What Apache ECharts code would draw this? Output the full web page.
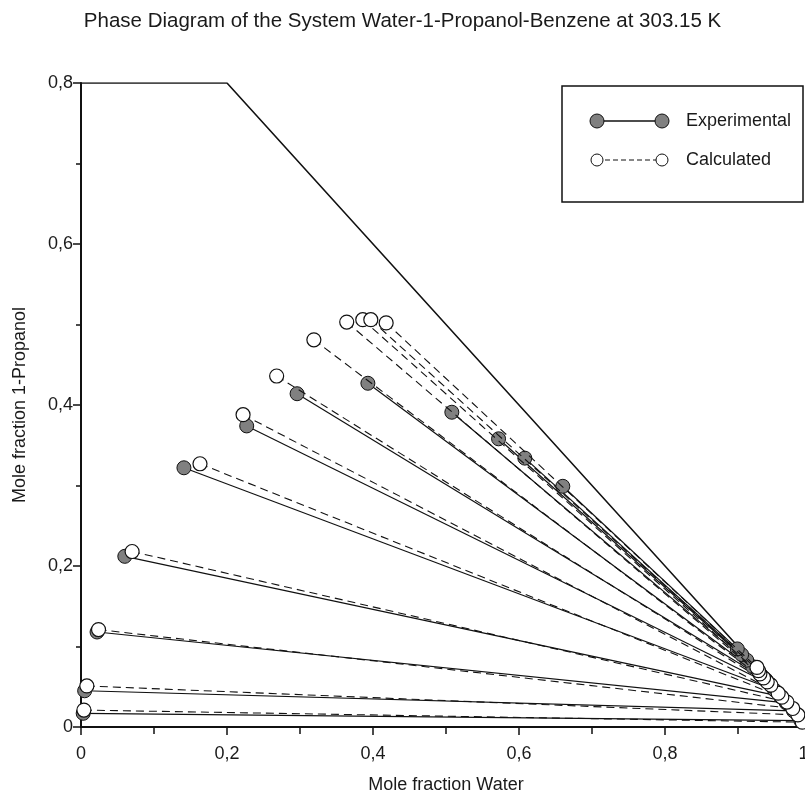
<!DOCTYPE html>
<html>
<head>
<meta charset="utf-8">
<script src="https://cdn.jsdelivr.net/npm/echarts@6/dist/echarts.min.js"></script>
<style>
  html, body { margin: 0; padding: 0; background: #fff; }
  #chart { width: 805px; height: 798px; }
</style>
</head>
<body>
<div id="chart"></div>
<script>
// tie lines: organic-rich phase end (left) and aqueous end (right), [water, 1-propanol]
const expOrganic = [
  [0.003, 0.017], [0.005, 0.045], [0.022, 0.118], [0.06, 0.212],
  [0.141, 0.322], [0.227, 0.374], [0.296, 0.414], [0.393, 0.427],
  [0.508, 0.391], [0.572, 0.358], [0.608, 0.334], [0.66, 0.299]
];
const expAqueous = [
  [0.986, 0.008], [0.976, 0.02], [0.966, 0.03], [0.958, 0.038],
  [0.95, 0.046], [0.944, 0.053], [0.938, 0.059], [0.932, 0.064],
  [0.92, 0.075], [0.912, 0.083], [0.905, 0.09], [0.899, 0.097]
];
const calcOrganic = [
  [0.004, 0.021], [0.008, 0.051], [0.024, 0.121], [0.07, 0.218],
  [0.163, 0.327], [0.222, 0.388], [0.268, 0.436], [0.319, 0.481],
  [0.364, 0.503], [0.386, 0.506], [0.397, 0.506], [0.418, 0.502]
];
const calcAqueous = [
  [0.988, 0.006], [0.982, 0.015], [0.975, 0.023], [0.967, 0.031],
  [0.96, 0.037], [0.955, 0.042], [0.945, 0.052], [0.94, 0.056],
  [0.935, 0.061], [0.93, 0.066], [0.928, 0.07], [0.926, 0.074]
];
// outer limit of the diagram (x + y <= 1, y <= 0.8)
const boundary = [[0, 0.8], [0.2, 0.8], [1, 0]];

const xTickLabels = ["0", "0,2", "0,4", "0,6", "0,8", "1,0"];
const yTickLabels = ["0", "0,2", "0,4", "0,6", "0,8"];

const FONT = "'Liberation Sans', Arial, sans-serif";

const chart = echarts.init(document.getElementById("chart"));

const series = [
  {
    type: "line",
    data: boundary,
    symbol: "none",
    silent: true,
    lineStyle: { color: "#111", width: 1.6 },
    z: 1
  }
];

expOrganic.forEach((p, i) => {
  series.push({
    type: "line",
    data: [p, expAqueous[i]],
    symbol: "circle",
    symbolSize: 14,
    itemStyle: { color: "#808080", borderColor: "#111", borderWidth: 1 },
    lineStyle: { color: "#111", width: 1.2 },
    z: 2
  });
});

calcOrganic.forEach((p, i) => {
  series.push({
    type: "line",
    data: [p, calcAqueous[i]],
    symbol: "circle",
    symbolSize: 14,
    itemStyle: { color: "#fff", borderColor: "#111", borderWidth: 1.2 },
    lineStyle: { color: "#111", width: 1.1, type: [8, 5] },
    z: 3
  });
});

const option = {
  animation: false,
  backgroundColor: "#fff",
  title: {
    text: "Phase Diagram of the System Water-1-Propanol-Benzene at 303.15 K",
    left: "center",
    top: 6,
    textStyle: { fontFamily: FONT, fontSize: 20.5, fontWeight: "normal", color: "#1a1a1a" }
  },
  // the x axis runs on past the right edge of the picture (1,0 is cut off)
  grid: { left: 81, top: 83, width: 730, height: 644, outerBoundsMode: "none", containLabel: false },
  xAxis: {
    type: "value",
    min: 0,
    max: 1,
    interval: 0.2,
    name: "Mole fraction Water",
    nameLocation: "middle",
    nameGap: 49,
    nameTextStyle: { fontFamily: FONT, fontSize: 18, color: "#1a1a1a" },
    axisLine: { show: true, onZero: false, lineStyle: { color: "#111", width: 2 } },
    axisTick: { show: true, length: 8, lineStyle: { color: "#111", width: 1.5 } },
    minorTick: { show: true, splitNumber: 2, length: 7, lineStyle: { color: "#111", width: 1.5 } },
    axisLabel: {
      margin: 18,
      fontFamily: FONT,
      fontSize: 18,
      color: "#1a1a1a",
      formatter: v => xTickLabels[Math.round(v / 0.2)]
    },
    splitLine: { show: false }
  },
  yAxis: {
    type: "value",
    min: 0,
    max: 0.8,
    interval: 0.2,
    name: "Mole fraction 1-Propanol",
    nameLocation: "middle",
    nameGap: 52,
    nameTextStyle: { fontFamily: FONT, fontSize: 18, color: "#1a1a1a" },
    axisLine: { show: true, onZero: false, lineStyle: { color: "#111", width: 2 } },
    axisTick: { show: true, length: 8, lineStyle: { color: "#111", width: 1.5 } },
    minorTick: { show: true, splitNumber: 2, length: 5, lineStyle: { color: "#111", width: 1.5 } },
    axisLabel: {
      margin: 8,
      fontFamily: FONT,
      fontSize: 18,
      color: "#1a1a1a",
      formatter: v => yTickLabels[Math.round(v / 0.2)]
    },
    splitLine: { show: false }
  },
  graphic: [
    // legend box
    { type: "rect", shape: { x: 562, y: 86, width: 241, height: 116 },
      style: { fill: "#fff", stroke: "#111", lineWidth: 1.5 }, z: 10 },
    { type: "line", shape: { x1: 597, y1: 121, x2: 662, y2: 121 },
      style: { stroke: "#111", lineWidth: 1.3 }, z: 11 },
    { type: "circle", shape: { cx: 597, cy: 121, r: 7 },
      style: { fill: "#808080", stroke: "#111", lineWidth: 1 }, z: 12 },
    { type: "circle", shape: { cx: 662, cy: 121, r: 7 },
      style: { fill: "#808080", stroke: "#111", lineWidth: 1 }, z: 12 },
    { type: "text", x: 686, y: 121,
      style: { text: "Experimental", font: "18px " + FONT, fill: "#1a1a1a", verticalAlign: "middle" }, z: 12 },
    { type: "line", shape: { x1: 597, y1: 160, x2: 662, y2: 160 },
      style: { stroke: "#111", lineWidth: 1, lineDash: [5, 3] }, z: 11 },
    { type: "circle", shape: { cx: 597, cy: 160, r: 6 },
      style: { fill: "#fff", stroke: "#111", lineWidth: 1 }, z: 12 },
    { type: "circle", shape: { cx: 662, cy: 160, r: 6 },
      style: { fill: "#fff", stroke: "#111", lineWidth: 1 }, z: 12 },
    { type: "text", x: 686, y: 160,
      style: { text: "Calculated", font: "18px " + FONT, fill: "#1a1a1a", verticalAlign: "middle" }, z: 12 }
  ],
  series: series
};

chart.setOption(option);
</script>
</body>
</html>
